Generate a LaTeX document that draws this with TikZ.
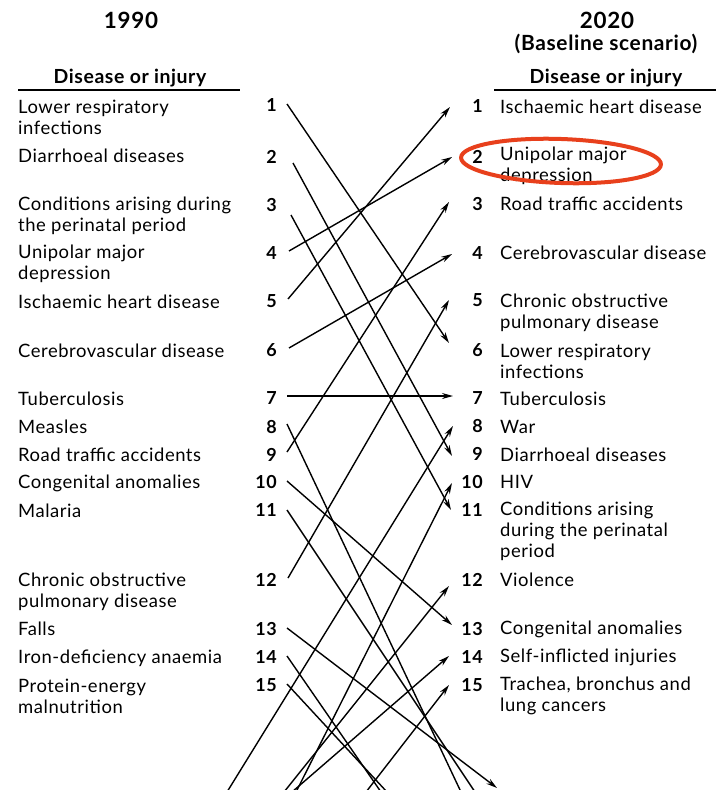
\documentclass[tikz,border=0pt]{standalone}
\usepackage{fontspec}
\setmainfont{Lato}[LetterSpace=3]
\usetikzlibrary{arrows.meta}
\definecolor{ovalred}{RGB}{232,64,28}
\tikzset{
 lab/.style={anchor=west, inner sep=0, align=left, font=\fontsize{18.5}{21}\selectfont},
 num/.style={anchor=east, inner sep=0, font=\bfseries\fontsize{18}{20}\selectfont},
 head/.style={font=\bfseries\fontsize{22.5}{24}\selectfont, inner sep=0},
 sub/.style={font=\bfseries\fontsize{19.5}{22}\selectfont, inner sep=0},
 link/.style={line width=1.4bp},
 arr/.style={link, -{Stealth[length=11bp,width=6bp]}},
 rule/.style={line width=2bp},
}
\begin{document}
\begin{tikzpicture}[x=1bp,y=-1bp]
\useasboundingbox (0,0) rectangle (716,790);
% headers
\node[head] (h1) at (131,20) {1990};
\node[head] (h2) at (607,20) {2020};
\node[sub, font=\bfseries\fontsize{21}{22}\selectfont] (h3) at (606,44) {(Baseline scenario)};
\node[sub] (dl) at (130,78) {Disease or injury};
\node[sub] (dr) at (606,78) {Disease or injury};
\draw[rule] (18,90) -- (240,90);
\draw[rule] (494,90) -- (716,90);
% left labels
\node[lab] (a1) at (18,117.5) {Lower respiratory\\infections};
\node[lab] (a2) at (18,156) {Diarrhoeal diseases};
\node[lab] (a3) at (18,215.5) {Conditions arising during\\the perinatal period};
\node[lab] (a4) at (18,263.5) {Unipolar major\\depression};
\node[lab] (a5) at (18,302) {Ischaemic heart disease};
\node[lab] (a6) at (18,351) {Cerebrovascular disease};
\node[lab] (a7) at (18,399) {Tuberculosis};
\node[lab] (a8) at (18,427) {Measles};
\node[lab] (a9) at (18,455) {Road traffic accidents};
\node[lab] (a10) at (18,483) {Congenital anomalies};
\node[lab] (a11) at (18,511) {Malaria};
\node[lab] (a12) at (18,591.5) {Chronic obstructive\\pulmonary disease};
\node[lab] (a13) at (18,629) {Falls};
\node[lab] (a14) at (18,658) {Iron-deficiency anaemia};
\node[lab] (a15) at (18,696) {Protein-energy\\malnutrition};
% left numbers
\foreach \n/\y in {1/105,2/157,3/205,4/253,5/301,6/350,7/398,8/427,9/455,10/482,11/510,12/580,13/629,14/657,15/685}
  \node[num] (l\n) at (277,\y) {\n};
% right numbers
\foreach \n/\y in {1/106,2/157,3/204,4/253,5/300,6/350,7/398,8/426,9/454,10/482,11/510,12/580,13/629,14/657,15/685}
  \node[num] (r\n) at (483,\y) {\n};
% right labels
\node[lab] (c1) at (500,107) {Ischaemic heart disease};
\node[lab] (c2) at (500,166) {Unipolar major\\depression};
\node[lab] (c3) at (500,204) {Road traffic accidents};
\node[lab] (c4) at (500,253) {Cerebrovascular disease};
\node[lab] (c5) at (500,312.5) {Chronic obstructive\\pulmonary disease};
\node[lab] (c6) at (500,361) {Lower respiratory\\infections};
\node[lab] (c7) at (500,399) {Tuberculosis};
\node[lab] (c8) at (500,427) {War};
\node[lab] (c9) at (500,455) {Diarrhoeal diseases};
\node[lab] (c10) at (500,482) {HIV};
\node[lab] (c11) at (500,531.5) {Conditions arising\\during the perinatal\\period};
\node[lab] (c12) at (500,580) {Violence};
\node[lab] (c13) at (500,629) {Congenital anomalies};
\node[lab] (c14) at (500,657) {Self-inflicted injuries};
\node[lab] (c15) at (500,696) {Trachea, bronchus and\\lung cancers};
% highlight
\coordinate (ov) at (561,161);
\draw[ovalred, line width=4bp, rotate around={-2:(ov)}] (ov) ellipse [x radius=100, y radius=22];
% line end points
\foreach \n/\x/\y in {1/287/104,2/293/163,3/291/215,4/289/251,5/288/299,6/289/348,7/287/396,8/287/424,9/287/452,10/287/481,11/287/510,12/288/578,13/287/628,14/287/656,15/287/684}
  \coordinate (s\n) at (\x,\y);
\foreach \n/\x/\y in {1/450/107,2/452/157,3/449/202,4/452/254,5/449/300,6/449/343,7/453/396,8/453/426,9/452/456,10/452/483,11/451/510,12/449/586,13/452/625,14/449/656,15/449/685}
  \coordinate (t\n) at (\x,\y);
\coordinate (b8) at (461,792);
\coordinate (b11) at (475,792);
\coordinate (b13) at (497,788);
\coordinate (b14) at (381,792);
\coordinate (b15) at (387,792);
\coordinate (u8) at (227,792);
\coordinate (u10) at (296,792);
\coordinate (u12) at (284,792);
\coordinate (u14) at (292,792);
\coordinate (u15) at (366,792);
% connectors
\draw[arr] (s1) -- (t6);
\draw[arr] (s2) -- (t9);
\draw[arr] (s3) -- (t11);
\draw[arr] (s4) -- (t2);
\draw[arr] (s5) -- (t1);
\draw[arr] (s6) -- (t4);
\draw[arr] (s7) -- (t7);
\draw[link] (s8) -- (b8);
\draw[arr] (s9) -- (t3);
\draw[arr] (s10) -- (t13);
\draw[link] (s11) -- (b11);
\draw[arr] (s12) -- (t5);
\draw[arr] (s13) -- (b13);
\draw[link] (s14) -- (b14);
\draw[link] (s15) -- (b15);
\draw[arr] (u8) -- (t8);
\draw[arr] (u10) -- (t10);
\draw[arr] (u12) -- (t12);
\draw[arr] (u14) -- (t14);
\draw[arr] (u15) -- (t15);
\end{tikzpicture}
\end{document}
